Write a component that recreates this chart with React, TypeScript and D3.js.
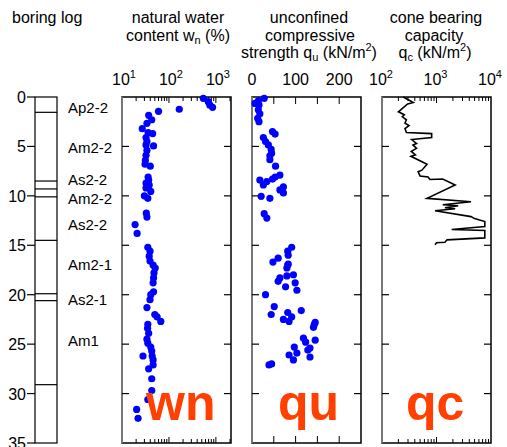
import React from "react";
import * as d3 from "d3";

const depthTicks = [0, 5, 10, 15, 20, 25, 30, 35];
const layerBounds = [1.55, 8.5, 9.3, 10.1, 14.5, 19.9, 20.6, 29.1];
const layerNames = ["Ap2-2", "Am2-2", "As2-2", "Am2-2", "As2-2", "Am2-1", "As2-1", "Am1"];
const layerLabelDepth = [1.1, 5.2, 8.4, 10.3, 12.9, 17.0, 20.5, 24.7];

const wnDepth = [0.13, 0.47, 0.8, 1.04, 1.24, 1.45, 1.85, 2.3, 2.66, 3.2, 3.6, 3.7, 4.1, 4.5, 4.85, 4.95, 5.4, 5.9, 6.4, 6.8, 7.0, 8.1, 8.4, 8.7, 8.9, 9.2, 9.55, 10.0, 10.25, 11.75, 12.15, 12.9, 13.8, 15.2, 15.6, 16.1, 16.6, 17.0, 17.3, 17.8, 18.3, 18.8, 19.7, 20.0, 20.5, 21.3, 22.0, 22.25, 22.7, 23.0, 23.4, 23.9, 24.5, 24.9, 25.3, 25.7, 26.2, 26.2, 26.6, 27.1, 27.5, 28.5, 29.7, 30.6, 31.6, 32.5];
const wnValue = [540, 690, 740, 850, 166, 60, 37, 43, 34, 27, 36, 45, 32.5, 34, 32.5, 47, 34, 32.5, 31.5, 31, 40, 36, 37, 32.5, 38, 32.5, 41, 30, 35.5, 33, 34, 19, 21, 35.5, 39.5, 38, 39.5, 46, 51, 48, 47, 46, 47, 41, 39.5, 34, 50, 56, 67, 35.5, 35, 37, 34, 35.5, 41, 43, 28, 44, 46, 46, 37, 43, 43, 35.5, 20.5, 22];

const quDepth = [0.13, 0.4, 0.65, 0.8, 1.3, 1.7, 2.15, 2.5, 3.5, 3.75, 4.1, 4.5, 4.85, 5.3, 5.7, 5.95, 6.35, 7.0, 7.9, 8.1, 8.3, 8.4, 8.55, 8.9, 9.1, 9.4, 9.7, 10.05, 10.25, 11.8, 12.25, 15.2, 15.6, 16.0, 16.3, 16.7, 16.9, 17.0, 17.3, 17.98, 18.1, 18.3, 18.65, 18.8, 19.2, 19.55, 20.0, 21.2, 21.6, 21.8, 22.0, 22.25, 22.5, 22.7, 22.8, 23.0, 23.3, 24.4, 24.6, 24.8, 25.3, 25.4, 25.6, 25.9, 26.1, 26.3, 26.6, 27.0, 27.1];
const quValue = [28, 14.5, 7, 16, 14.5, 18, 13, 16, 47, 53, 26, 31, 37.5, 44, 45, 41, 41, 54, 64, 53, 47, 18, 34, 26, 72, 64, 72, 21, 41, 28, 34, 91, 82, 83, 60, 48, 83, 82, 80, 95, 80, 64, 60, 99, 77, 103, 31, 51, 113, 82, 44, 91, 72, 85, 145, 143, 141, 118, 145, 123, 97, 133, 128, 103, 85, 133, 95, 45, 39];

const qcDepth = [0.0, 0.55, 0.7, 1.5, 1.8, 2.0, 2.3, 2.65, 2.9, 3.2, 3.6, 3.7, 4.1, 4.3, 4.7, 4.85, 5.2, 5.5, 5.85, 6.0, 6.8, 7.4, 7.55, 8.0, 8.1, 8.35, 8.3, 8.9, 10.25, 10.6, 10.9, 11.0, 11.2, 11.3, 11.5, 12.1, 12.3, 12.6, 13.1, 13.4, 13.5, 14.25, 14.45, 14.7, 14.75, 14.95];
const qcValue = [245, 375, 295, 200, 256, 236, 280, 264, 313, 264, 280, 815, 815, 350, 430, 370, 430, 345, 410, 340, 670, 540, 460, 500, 700, 760, 1300, 2200, 670, 4300, 1300, 2500, 1430, 2200, 940, 4300, 5000, 7700, 7700, 1900, 7700, 7700, 1560, 1430, 1000, 940];

const wnTickLabels = [{ v: 10, e: "1" }, { v: 100, e: "2" }, { v: 1000, e: "3" }];
const quTickLabels = [0, 100, 200];
const quTicks = [50, 100, 150, 200];
const qcTickLabels = [{ v: 100, e: "2" }, { v: 1000, e: "3" }, { v: 10000, e: "4" }];

const FONT = "'Liberation Sans', Arial, sans-serif";
const TOP = 97;
const BOT = 443;

const y = d3.scaleLinear().domain([0, 35]).range([TOP, BOT]);
const wnX = d3.scaleLog().domain([10, 2100]).range([122, 231]);
const quX = d3.scaleLinear().domain([0, 250]).range([252, 361]);
const qcX = d3.scaleLog().domain([100, 10000]).range([382, 491]);

function logMinor(lo: number, hi: number): number[] {
  const out: number[] = [];
  for (let p = Math.floor(Math.log10(lo)); p <= Math.ceil(Math.log10(hi)); p++) {
    for (let m = 1; m <= 9; m++) {
      const v = m * Math.pow(10, p);
      if (v > lo * 1.0001 && v < hi * 0.9999) out.push(v);
    }
  }
  return out;
}

function Panel({ x0, x1, topTicks }: { x0: number; x1: number; topTicks: { x: number; len: number }[] }) {
  const dt = depthTicks.filter((d) => d > 0 && d < 35);
  return (
    <g>
      <rect x={x0} y={TOP} width={x1 - x0} height={BOT - TOP} fill="none" stroke="#000" strokeWidth={1.5} />
      <line x1={x0} x2={x0} y1={TOP} y2={BOT} stroke="#777" strokeWidth={2} />
      {dt.map((d) => (
        <g key={d}>
          <line x1={x0} x2={x0 + 7} y1={y(d)} y2={y(d)} stroke="#000" strokeWidth={1.2} />
          <line x1={x1 - 7} x2={x1} y1={y(d)} y2={y(d)} stroke="#000" strokeWidth={1.2} />
        </g>
      ))}
      {topTicks.map((t, i) => (
        <g key={i}>
          <line x1={t.x} x2={t.x} y1={TOP} y2={TOP + t.len} stroke="#000" strokeWidth={1} />
          <line x1={t.x} x2={t.x} y1={BOT} y2={BOT - t.len} stroke="#000" strokeWidth={1} />
        </g>
      ))}
    </g>
  );
}

function Pow({ x, e }: { x: number; e: string }) {
  return (
    <text x={x - 7} y={85} fontSize={16} fontFamily={FONT} textAnchor="middle">
      10
      <tspan dy={-7} fontSize={11}>{e}</tspan>
    </text>
  );
}

export default function App() {
  const wnMinor = logMinor(10, 2100);
  const qcMinor = logMinor(100, 10000);
  const qcLine = d3
    .line<number>()
    .x((_, i) => qcX(qcValue[i]))
    .y((d) => y(d));

  return (
    <svg width={507} height={447} style={{ position: "absolute", left: 0, top: 0 }} fontFamily={FONT}>
      <rect width={507} height={447} fill="#fff" />
      {/* titles */}
      <text x={12} y={23} fontSize={16}>boring log</text>
      <text x={178} y={23} fontSize={16} textAnchor="middle">natural water</text>
      <text x={178} y={41} fontSize={16} textAnchor="middle">
        content w<tspan fontSize={11} dy={3}>n</tspan>
        <tspan dy={-3}> (%)</tspan>
      </text>
      <text x={309} y={23} fontSize={16} textAnchor="middle">unconfined</text>
      <text x={310} y={41} fontSize={16} textAnchor="middle">compressive</text>
      <text x={309} y={58} fontSize={16} textAnchor="middle">
        strength q<tspan fontSize={11} dy={3}>u</tspan>
        <tspan dy={-3}> (kN/m</tspan>
        <tspan fontSize={11} dy={-7}>2</tspan>
        <tspan dy={7}>)</tspan>
      </text>
      <text x={436} y={23} fontSize={16} textAnchor="middle">cone bearing</text>
      <text x={434} y={41} fontSize={16} textAnchor="middle">capacity</text>
      <text x={435} y={58} fontSize={16} textAnchor="middle">
        q<tspan fontSize={11} dy={3}>c</tspan>
        <tspan dy={-3}> (kN/m</tspan>
        <tspan fontSize={11} dy={-7}>2</tspan>
        <tspan dy={7}>)</tspan>
      </text>

      {/* boring log column */}
      <rect x={35} y={TOP} width={22} height={BOT - TOP} fill="none" stroke="#000" strokeWidth={1.2} />
      {depthTicks.map((d) => (
        <g key={d}>
          <line x1={27} x2={35} y1={y(d)} y2={y(d)} stroke="#000" strokeWidth={1.2} />
          <text x={26} y={y(d) + 6} fontSize={16} textAnchor="end">{d}</text>
        </g>
      ))}
      {layerBounds.map((d, i) => (
        <line key={i} x1={35} x2={57} y1={y(d)} y2={y(d)} stroke="#000" strokeWidth={1.2} />
      ))}
      {layerNames.map((n, i) => (
        <text key={i} x={68} y={y(layerLabelDepth[i]) + 5} fontSize={15}>{n}</text>
      ))}

      {/* wn panel */}
      <Panel
        x0={122}
        x1={231}
        topTicks={wnMinor.map((v) => ({ x: wnX(v), len: Math.abs(Math.log10(v) % 1) < 1e-6 ? 6 : 4 }))}
      />
      {wnTickLabels.map((t) => (
        <Pow key={t.v} x={wnX(t.v) + 9} e={t.e} />
      ))}
      {wnDepth.map((d, i) => (
        <circle key={i} cx={wnX(wnValue[i])} cy={y(d)} r={3.6} fill="#0000ff" />
      ))}

      {/* qu panel */}
      <Panel x0={252} x1={361} topTicks={quTicks.map((v) => ({ x: quX(v), len: 7 }))} />
      {quTickLabels.map((v) => (
        <text key={v} x={quX(v)} y={85} fontSize={16} textAnchor="middle">{v}</text>
      ))}
      {quDepth.map((d, i) => (
        <circle key={i} cx={quX(quValue[i])} cy={y(d)} r={3.6} fill="#0000ff" />
      ))}

      {/* qc panel */}
      <Panel
        x0={382}
        x1={491}
        topTicks={qcMinor.map((v) => ({ x: qcX(v), len: Math.abs(Math.log10(v) % 1) < 1e-6 ? 6 : 4 }))}
      />
      {qcTickLabels.map((t) => (
        <Pow key={t.v} x={qcX(t.v) + 6} e={t.e} />
      ))}
      <path d={qcLine(qcDepth) || ""} fill="none" stroke="#000" strokeWidth={1.6} strokeLinejoin="miter" />

      {/* big labels */}
      <text x={146} y={420} fontSize={50} fontWeight="bold" fill="#ff4000">wn</text>
      <text x={278} y={420} fontSize={50} fontWeight="bold" fill="#ff4000">qu</text>
      <text x={406} y={420} fontSize={50} fontWeight="bold" fill="#ff4000">qc</text>
    </svg>
  );
}
